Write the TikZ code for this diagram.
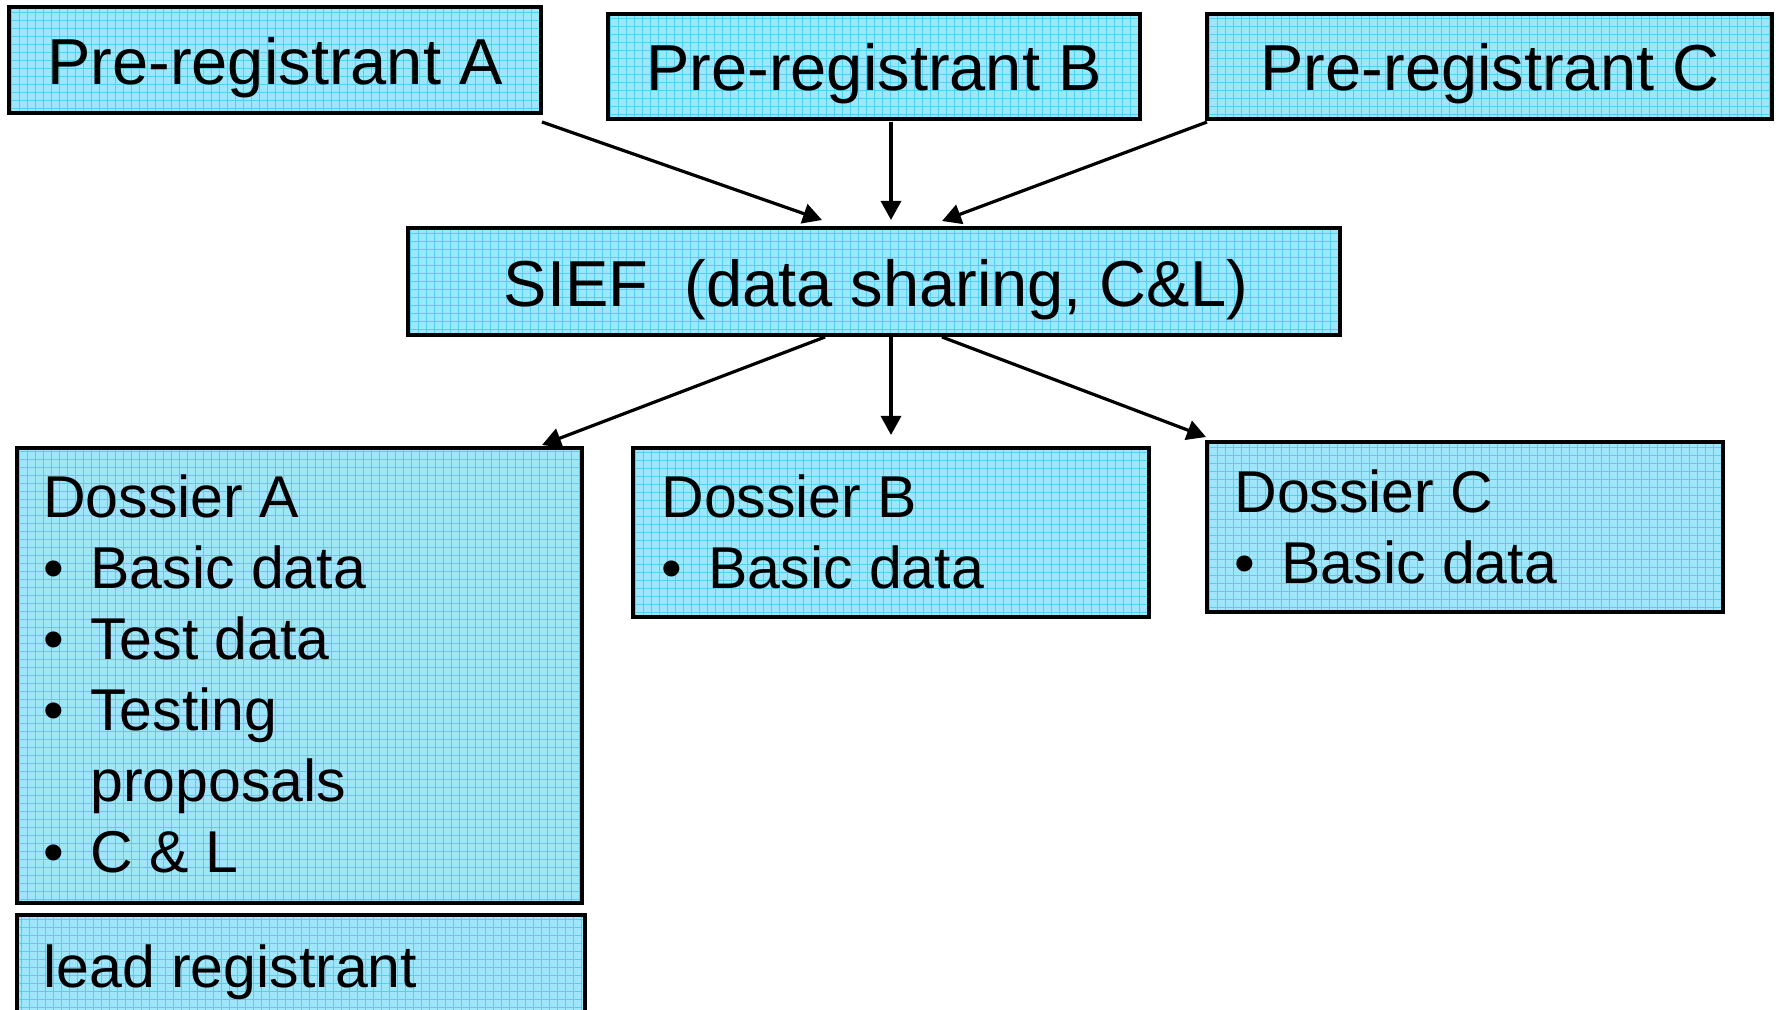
\documentclass[tikz,border=0pt]{standalone}
\usepackage{fontspec}
\setmainfont{Liberation Sans}
\usetikzlibrary{arrows.meta,calc}
\definecolor{boxfill}{RGB}{160,230,250}
\definecolor{gridc}{RGB}{80,208,242}
\newcommand\blt{\makebox[23.5pt][l]{\textbullet}}
\begin{document}
\begin{tikzpicture}[x=0.5pt,y=-0.5pt,
  box/.style={draw=black, line width=1.7pt, fill=boxfill, inner sep=0pt, outer sep=0pt, anchor=north west,
    path picture={\draw[gridc, line width=0.4pt, step=4pt] (path picture bounding box.south west) grid (path picture bounding box.north east);}},
  big/.style={font=\fontsize{32.5pt}{39pt}\selectfont, inner sep=0pt},
  small/.style={font=\fontsize{29.5pt}{35.5pt}\selectfont, inner sep=0pt},
  conn/.style={line width=1.6pt, -{Triangle[length=9.5pt,width=10pt]}}]
\useasboundingbox (0,0) rectangle (1779,1010);
\clip (0,0) rectangle (1779,1010);

% boxes
\node[box, minimum width=266pt, minimum height=53pt] (pA) at (9,7) {};
\node[box, minimum width=266pt, minimum height=52.5pt] (pB) at (608,14) {};
\node[box, minimum width=282.5pt, minimum height=52.5pt] (pC) at (1207,14) {};
\node[box, minimum width=466pt, minimum height=53.5pt] (sief) at (408,228) {};
\node[box, minimum width=282.5pt, minimum height=227.5pt] (dA) at (17,448) {};
\node[box, minimum width=284pt, minimum height=60pt] (lead) at (17,915) {};
\node[box, minimum width=258pt, minimum height=84.5pt] (dB) at (633,448) {};
\node[box, minimum width=258pt, minimum height=85pt] (dC) at (1207,442) {};

% texts
\node[big, anchor=base] (tA) at (275,85) {Pre-registrant A};
\node[big, anchor=base] (tB) at (874,91) {Pre-registrant B};
\node[big, anchor=base] (tC) at (1490,91) {Pre-registrant C};
\node[big, anchor=base] (tS) at (876,307) {SIEF\ \ (data sharing, C\&L)};
\node[small, anchor=base west] (tdA) at (43,518) {\begin{tabular}[t]{@{}l@{}}Dossier A\\ \blt Basic data\\ \blt Test data\\ \blt Testing\\ \hspace*{23.5pt}proposals\\ \blt C \& L\end{tabular}};
\node[small, anchor=base west] (tdB) at (661,518) {\begin{tabular}[t]{@{}l@{}}Dossier B\\ \blt Basic data\end{tabular}};
\node[small, anchor=base west] (tdC) at (1234,513) {\begin{tabular}[t]{@{}l@{}}Dossier C\\ \blt Basic data\end{tabular}};
\node[small, anchor=base west] (tL) at (43,987) {lead registrant};

% connectors
\draw[conn] ($(pA.south east)+(1,9)$) -- ($(sief.north)+(-52,-8)$);
\draw[conn] ($(pB.south)+(17,3)$) -- ($(sief.north)+(17,-8)$);
\draw[conn] ($(pC.south west)+(0,3)$) -- ($(sief.north)+(68,-7)$);
\draw[conn] ($(sief.south)+(-49,2)$) -- ($(dA.north east)+(-40,-3)$);
\draw[conn] ($(sief.south)+(17,2)$) -- ($(dB.north)+(0,-13)$);
\draw[conn] ($(sief.south)+(68,2)$) -- ($(dC.north west)+(-1,-5)$);
\end{tikzpicture}
\end{document}
